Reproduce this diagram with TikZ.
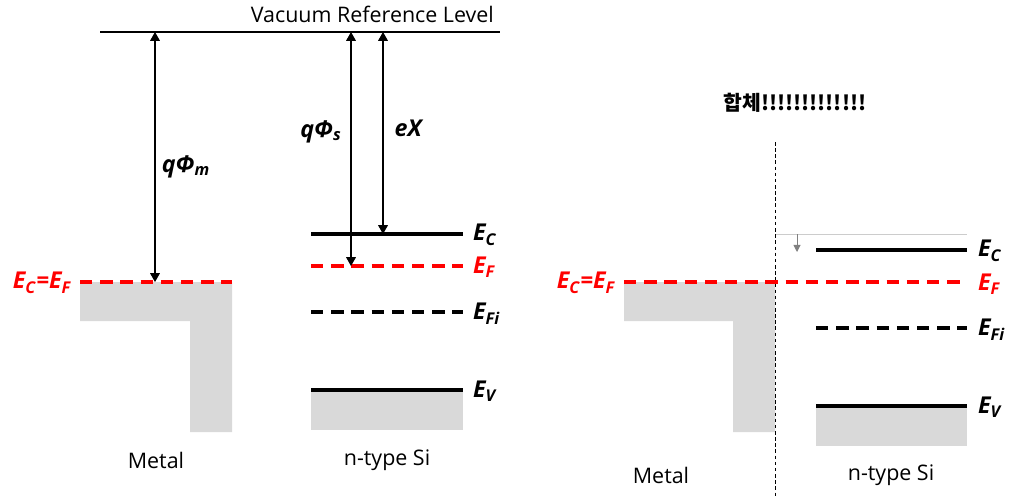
\documentclass[tikz,border=0pt]{standalone}
\usepackage{fontspec}
\setmainfont{Open Sans}
\newfontfamily\kofont{Noto Sans CJK KR}
\usetikzlibrary{arrows.meta}
\definecolor{bandgray}{HTML}{D9D9D9}
\newcommand{\en}[1]{\textbf{\textit{E\textsubscript{#1}}}}

\begin{document}
\begin{tikzpicture}[x=0.02cm, y=-0.02cm,
    every node/.append style={font=\fontsize{12.2}{14}\selectfont},
    band/.style={fill=bandgray, draw=none},
    level/.style={line width=2pt},
    fermi/.style={line width=2pt, red, dash pattern=on 7pt off 4.5pt},
    intr/.style={line width=2pt, black, dash pattern=on 7pt off 4.5pt},
    sym/.style={font=\fontsize{13.2}{15}\selectfont},
    lvl/.style={sym, anchor=west, inner sep=1pt},
    arr/.style={{Triangle[length=5pt,width=5.5pt]}-{Triangle[length=5pt,width=5.5pt]}, line width=0.6pt},
    bendarr/.style={-{Triangle[length=4pt,width=4pt]}, gray, line width=0.5pt}
  ]
  \useasboundingbox (0,0) rectangle (1026,497);

  % separate metal and semiconductor
  \coordinate (vacL) at (100,32);
  \coordinate (vacR) at (500,32);
  \draw[line width=0.6pt] (vacL) -- (vacR);
  \node[anchor=base east, inner sep=1pt] (vactext) at (496,22) {Vacuum Reference Level};

  \fill[band] (80,282) -- (232,282) -- (232,432) -- (190,432) -- (190,321) -- (80,321) -- cycle;
  \fill[band] (311,390) rectangle (463,430);

  \draw[fermi] (80,282) -- (232,282);
  \draw[level] (311,234) -- (463,234);
  \draw[fermi] (311,266) -- (463,266);
  \draw[intr]  (311,312) -- (463,312);
  \draw[level] (311,390) -- (463,390);

  \coordinate (phimT) at (155,32);
  \coordinate (phimB) at (155,282);
  \coordinate (phisT) at (351,32);
  \coordinate (phisB) at (351,266);
  \coordinate (chiT) at (383,32);
  \coordinate (chiB) at (383,234);
  \draw[arr] (phimT) -- (phimB);
  \draw[arr] (phisT) -- (phisB);
  \draw[arr] (chiT) -- (chiB);

  \node[sym] (phim) at (186,167) {\textbf{\textit{q\char"03A6\textsubscript{m}}}};
  \node[sym] (phis) at (321,132) {\textbf{\textit{q\char"03A6\textsubscript{s}}}};
  \node[sym] (chi)  at (409,128) {\textbf{\textit{eX}}};

  \node[sym, anchor=east, inner sep=2pt, red] (efm) at (75,283) {\textbf{\textit{E\textsubscript{C}=E\textsubscript{F}}}};
  \node[lvl] (ec) at (471,235) {\en{C}};
  \node[lvl, red] (ef) at (471,267) {\en{F}};
  \node[lvl] (efi) at (471,314) {\en{Fi}};
  \node[lvl] (ev) at (471,391) {\en{V}};

  \node (metal) at (156,460) {Metal};
  \node (nsi) at (387,460) {n-type Si};

  % in contact
  \node[font=\fontsize{11.6}{14}\selectfont] (title) at (795,103) {\kofont\bfseries 합체!!!!!!!!!!!!!};

  \fill[band] (624,282) -- (775,282) -- (775,432) -- (733,432) -- (733,321) -- (624,321) -- cycle;
  \fill[band] (816,406) rectangle (967,446);

  \coordinate (jT) at (775,142);
  \coordinate (jB) at (775,497);
  \draw[dash pattern=on 2pt off 1.5pt, line width=0.5pt] (jT) -- (jB);

  \draw[gray!40, line width=0.4pt] (776,234) -- (967,234);
  \coordinate (oldC) at (797,234);
  \coordinate (newC) at (797,252);
  \draw[bendarr] (oldC) -- (newC);

  \draw[level] (816,250) -- (967,250);
  \draw[fermi] (624,282) -- (967,282);
  \draw[intr]  (816,328) -- (967,328);
  \draw[level] (816,406) -- (967,406);

  \node[sym, anchor=east, inner sep=2pt, red] (efm2) at (619,283) {\textbf{\textit{E\textsubscript{C}=E\textsubscript{F}}}};
  \node[lvl] (ec2) at (976,251) {\en{C}};
  \node[lvl, red] (ef2) at (976,284) {\en{F}};
  \node[lvl] (efi2) at (976,330) {\en{Fi}};
  \node[lvl] (ev2) at (976,407) {\en{V}};

  \node (metal2) at (661,475) {Metal};
  \node (nsi2) at (891,475) {n-type Si};
\end{tikzpicture}
\end{document}
